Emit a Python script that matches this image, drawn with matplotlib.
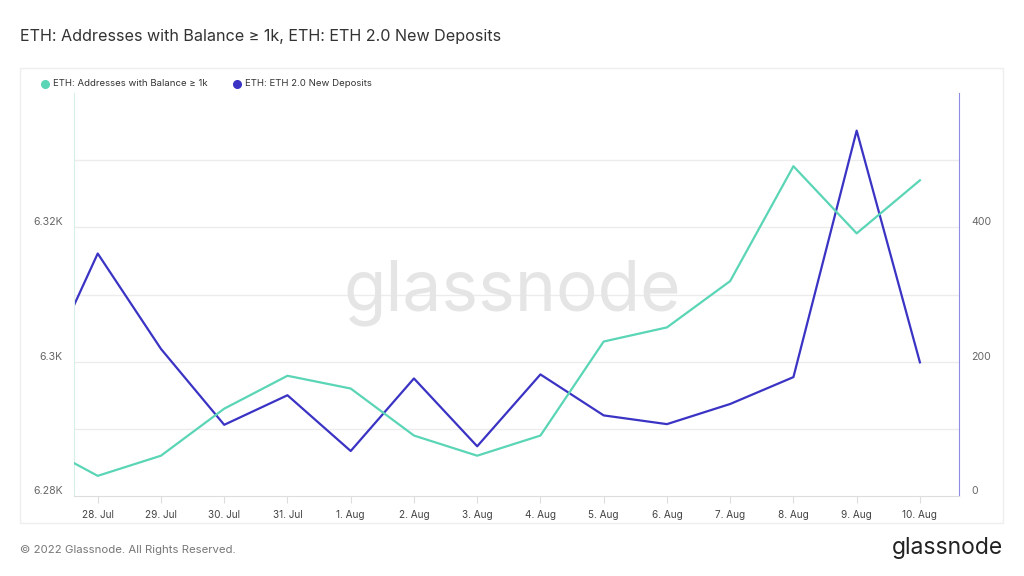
import numpy as np
import pandas as pd
import matplotlib
matplotlib.use('Agg')
import matplotlib.pyplot as plt
import matplotlib.patches as mpatches

plt.rcParams['font.family'] = ['Inter', 'DejaVu Sans']

# data (first point sits on the left edge of the plot)
dates = pd.to_datetime(['2022-07-27 15:00', '2022-07-28 00:00', '2022-07-29 00:00', '2022-07-30 00:00',
                        '2022-07-31 00:00', '2022-08-01 00:00', '2022-08-02 00:00', '2022-08-03 00:00',
                        '2022-08-04 00:00', '2022-08-05 00:00', '2022-08-06 00:00', '2022-08-07 00:00',
                        '2022-08-08 00:00', '2022-08-09 00:00', '2022-08-10 00:00'])
addresses_1k = [6284.9, 6283.0, 6286.0, 6293.0, 6297.9, 6296.0, 6289.0, 6286.0,
                6289.0, 6303.0, 6305.1, 6312.0, 6329.1, 6319.1, 6327.0]
new_deposits = [284, 361, 219, 106, 150, 67, 175, 74, 181, 120, 107, 137, 177, 544, 199]

tick_dates = pd.date_range('2022-07-28', '2022-08-10', freq='D')
tick_labels = ['28. Jul', '29. Jul', '30. Jul', '31. Jul', '1. Aug', '2. Aug', '3. Aug',
               '4. Aug', '5. Aug', '6. Aug', '7. Aug', '8. Aug', '9. Aug', '10. Aug']

green = '#5ad5b6'
blue = '#3a33c4'
grid_c = '#ececec'
label_c = '#666666'

fig = plt.figure(figsize=(10.24, 5.76), dpi=100)

# outer chart frame
fig.patches.append(mpatches.Rectangle((20 / 1024, 1 - 523 / 576), 983 / 1024, 455 / 576,
                                      transform=fig.transFigure, fill=False,
                                      edgecolor='#eeeeee', linewidth=1))

fig.text(20 / 1024, 1 - 37 / 576, 'ETH: Addresses with Balance \u2265 1k, ETH: ETH 2.0 New Deposits',
         fontsize=11.6, color='#333333', va='center', ha='left')

ax = fig.add_axes([74 / 1024, 1 - 496 / 576, 885 / 1024, 403 / 576])
ax2 = ax.twinx()

ax.plot(dates, addresses_1k, color=green, linewidth=1.6, zorder=3)
ax2.plot(dates, new_deposits, color=blue, linewidth=1.6, zorder=3)

ax.set_xlim(dates[0], pd.Timestamp('2022-08-10 14:50'))
ax.set_ylim(6280, 6340)
ax2.set_ylim(0, 600)

ax.set_yticks([6280, 6300, 6320])
ax.set_yticklabels(['6.28K', '6.3K', '6.32K'])
ax2.set_yticks([0, 200, 400])
ax2.set_yticklabels(['0', '200', '400'])

# horizontal grid every 100 on the right scale
for g in range(100, 600, 100):
    ax2.axhline(g, color=grid_c, linewidth=1, zorder=0)

ax.set_xticks(tick_dates)
ax.set_xticklabels(tick_labels)

ax.tick_params(axis='x', length=5, color='#dddddd', labelsize=7.2, labelcolor='#444444', pad=5)
ax.tick_params(axis='y', length=0, labelsize=7.6, labelcolor=label_c, pad=8)
ax2.tick_params(axis='y', length=0, labelsize=7.6, labelcolor=label_c, pad=9)
for lbl in ax.get_yticklabels() + ax2.get_yticklabels():
    lbl.set_va('bottom')

for a in (ax, ax2):
    for s in a.spines.values():
        s.set_visible(False)
ax.spines['bottom'].set_visible(True)
ax.spines['bottom'].set_color('#dddddd')
ax2.spines['right'].set_visible(True)
ax2.spines['right'].set_color('#8f8ae6')
ax.spines['left'].set_visible(True)
ax.spines['left'].set_color('#d8eee8')
ax.spines['left'].set_linestyle((0, (1, 1)))

ax.set_zorder(ax2.get_zorder() + 1)
ax.patch.set_visible(False)

# watermark
fig.text(512 / 1024, 1 - 293 / 576, 'glassnode', fontsize=50, color='#e5e5e5',
         ha='center', va='center', zorder=0)

# legend
fig.lines.append(plt.Line2D([45 / 1024], [1 - 84 / 576], marker='o', markersize=5.5,
                            color=green, transform=fig.transFigure))
fig.text(53 / 1024, 1 - 84 / 576, 'ETH: Addresses with Balance \u2265 1k', fontsize=6.9,
         color='#333333', va='center')
fig.lines.append(plt.Line2D([237 / 1024], [1 - 84 / 576], marker='o', markersize=5.5,
                            color=blue, transform=fig.transFigure))
fig.text(245 / 1024, 1 - 84 / 576, 'ETH: ETH 2.0 New Deposits', fontsize=6.9,
         color='#333333', va='center')

# footer
fig.text(20 / 1024, 1 - 550 / 576, '\u00a9 2022 Glassnode. All Rights Reserved.', fontsize=8.2,
         color='#777777', va='center')
fig.text(1003 / 1024, 1 - 548 / 576, 'glassnode', fontsize=16.5, color='#222222',
         ha='right', va='center')

fig.savefig('out.png', dpi=100)
